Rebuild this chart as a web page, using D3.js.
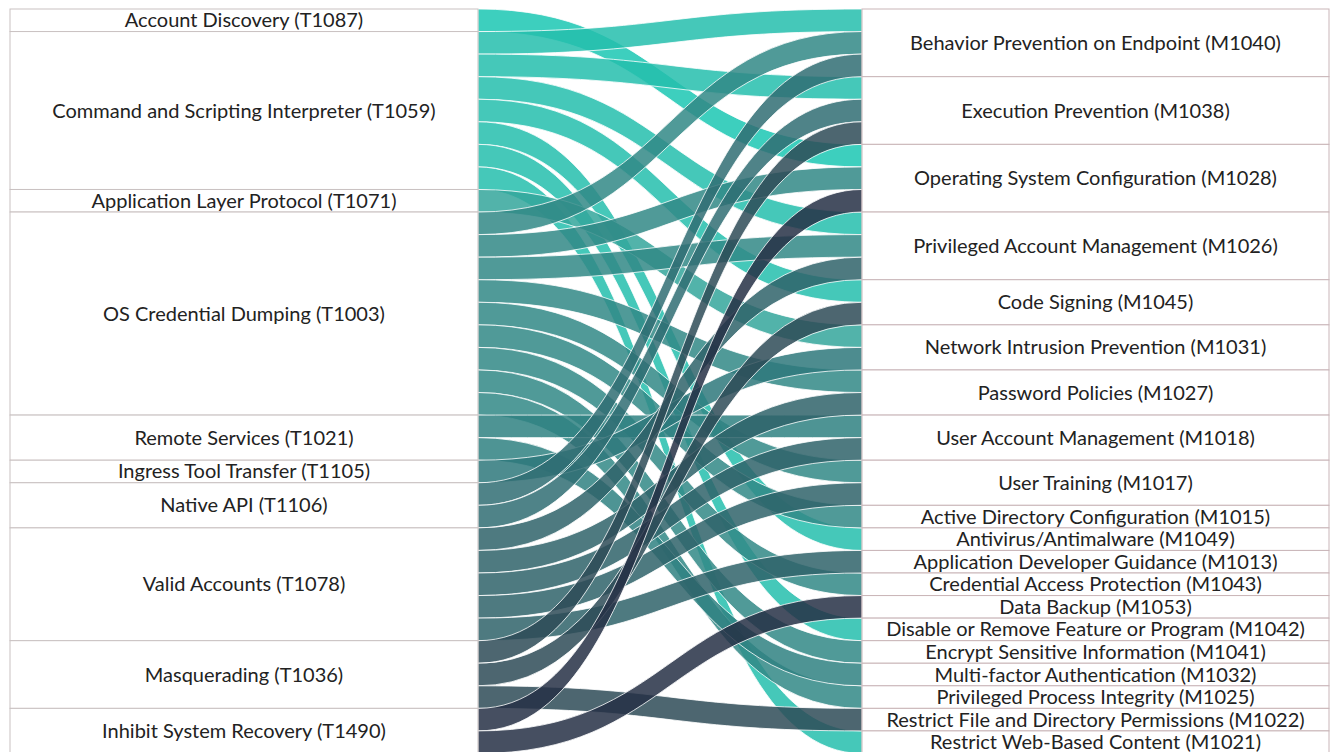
<!DOCTYPE html>
<html>
<head>
<meta charset="utf-8">
<script src="https://cdn.jsdelivr.net/npm/d3@7"></script>
<style>
  body { margin: 0; background: #fff; }
  text { font-family: Lato, "Noto Sans", sans-serif; fill: #222; }
</style>
</head>
<body>
<div id="chart"></div>
<script>
// ATT&CK techniques (left) and mitigations (right)
var techniques = [
    "Account Discovery (T1087)",
    "Command and Scripting Interpreter (T1059)",
    "Application Layer Protocol (T1071)",
    "OS Credential Dumping (T1003)",
    "Remote Services (T1021)",
    "Ingress Tool Transfer (T1105)",
    "Native API (T1106)",
    "Valid Accounts (T1078)",
    "Masquerading (T1036)",
    "Inhibit System Recovery (T1490)"
];

var mitigations = [
    "Behavior Prevention on Endpoint (M1040)",
    "Execution Prevention (M1038)",
    "Operating System Configuration (M1028)",
    "Privileged Account Management (M1026)",
    "Code Signing (M1045)",
    "Network Intrusion Prevention (M1031)",
    "Password Policies (M1027)",
    "User Account Management (M1018)",
    "User Training (M1017)",
    "Active Directory Configuration (M1015)",
    "Antivirus/Antimalware (M1049)",
    "Application Developer Guidance (M1013)",
    "Credential Access Protection (M1043)",
    "Data Backup (M1053)",
    "Disable or Remove Feature or Program (M1042)",
    "Encrypt Sensitive Information (M1041)",
    "Multi-factor Authentication (M1032)",
    "Privileged Process Integrity (M1025)",
    "Restrict File and Directory Permissions (M1022)",
    "Restrict Web-Based Content (M1021)"
];

// links: technique index -> mitigation index
var linkSource = [0, 1, 1, 1, 1, 1, 1, 1, 2, 3, 3, 3, 3, 3, 3, 3, 3, 3, 4, 4, 5, 6, 6, 7, 7, 7, 7, 7, 8, 8, 8, 9, 9];
var linkTarget = [2, 0, 1, 3, 4, 10, 14, 19, 5, 0, 2, 3, 6, 8, 9, 12, 15, 17, 7, 16, 5, 0, 1, 3, 6, 7, 8, 11, 1, 4, 18, 2, 13];
var linkValue  = [1, 1, 1, 1, 1, 1, 1, 1, 1, 1, 1, 1, 1, 1, 1, 1, 1, 1, 1, 1, 1, 1, 1, 1, 1, 1, 1, 1, 1, 1, 1, 1, 1];

var sourceColors = ["#1bc7b3", "#24bead", "#34a69b", "#318886", "#2f8181",
                    "#2e787b", "#306d73", "#2f636a", "#2e4b57", "#263045"];

var width = 1330, height = 752;

var svg = d3.select("#chart").append("svg")
    .attr("width", width)
    .attr("height", height);

var links = linkSource.map((s, i) => ({ source: s, target: linkTarget[i], value: linkValue[i], index: i }));

var total = d3.sum(linkValue);
var y = d3.scaleLinear().domain([0, total]).range([9, 9 + total * 22.56]);

var leftX0 = 10, leftX1 = 478, rightX0 = 862, rightX1 = 1329;

// node values and positions
function buildNodes(names, key) {
    var acc = 0;
    return names.map((name, i) => {
        var v = d3.sum(links.filter(l => l[key] === i), l => l.value);
        var n = { name: name, index: i, value: v, start: acc };
        acc += v;
        return n;
    });
}
var leftNodes = buildNodes(techniques, "source");
var rightNodes = buildNodes(mitigations, "target");

// offsets of each link inside its nodes
leftNodes.forEach(n => {
    var off = n.start;
    links.filter(l => l.source === n.index)
        .sort((a, b) => a.target - b.target)
        .forEach(l => { l.s0 = off; off += l.value; });
});
rightNodes.forEach(n => {
    var off = n.start;
    links.filter(l => l.target === n.index)
        .sort((a, b) => a.source - b.source)
        .forEach(l => { l.t0 = off; off += l.value; });
});

var color = d3.scaleOrdinal().domain(d3.range(techniques.length)).range(sourceColors);

function ribbon(l) {
    var xm = (leftX1 + rightX0) / 2;
    var ys0 = y(l.s0), ys1 = y(l.s0 + l.value);
    var yt0 = y(l.t0), yt1 = y(l.t0 + l.value);
    var p = d3.path();
    p.moveTo(leftX1, ys0);
    p.bezierCurveTo(xm, ys0, xm, yt0, rightX0, yt0);
    p.lineTo(rightX0, yt1);
    p.bezierCurveTo(xm, yt1, xm, ys1, leftX1, ys1);
    p.closePath();
    return p.toString();
}

svg.append("g")
    .selectAll("path")
    .data(links)
    .join("path")
    .attr("d", ribbon)
    .attr("fill", d => color(d.source))
    .attr("fill-opacity", 0.85)
    .attr("stroke", "#fff")
    .attr("stroke-width", 1)
    .attr("stroke-opacity", 0.8);

// left nodes
var lg = svg.append("g").selectAll("g").data(leftNodes).join("g");
lg.append("rect")
    .attr("x", leftX0)
    .attr("y", d => y(d.start))
    .attr("width", leftX1 - leftX0)
    .attr("height", d => y(d.start + d.value) - y(d.start))
    .attr("fill", "#fff")
    .attr("stroke", "#c9c1c1")
    .attr("stroke-width", 1);
lg.append("text")
    .attr("x", (leftX0 + leftX1) / 2)
    .attr("y", d => y(d.start + d.value / 2))
    .attr("dy", "0.35em")
    .attr("text-anchor", "middle")
    .style("font-size", "20px")
    .text(d => d.name);

// right nodes
var rg = svg.append("g").selectAll("g").data(rightNodes).join("g");
rg.append("rect")
    .attr("x", rightX0)
    .attr("y", d => y(d.start))
    .attr("width", rightX1 - rightX0)
    .attr("height", d => y(d.start + d.value) - y(d.start))
    .attr("fill", "#fff")
    .attr("stroke", "#c9b5b8")
    .attr("stroke-width", 1);
rg.append("text")
    .attr("x", (rightX0 + rightX1) / 2)
    .attr("y", d => y(d.start + d.value / 2))
    .attr("dy", "0.35em")
    .attr("text-anchor", "middle")
    .style("font-size", "20px")
    .text(d => d.name);
</script>
</body>
</html>
